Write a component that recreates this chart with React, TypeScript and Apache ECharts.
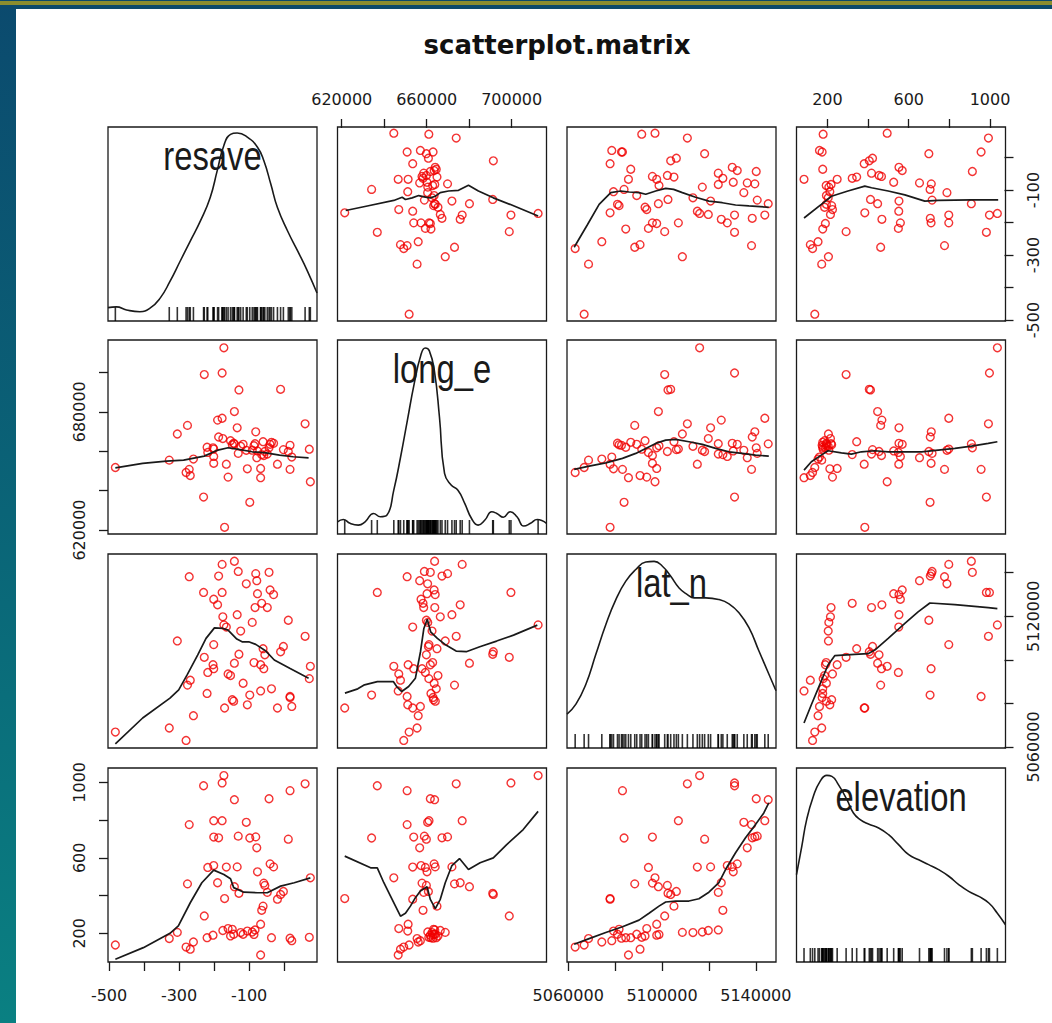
import React, { useEffect, useRef } from "react";
import * as echarts from "echarts";

// ---------------- data ----------------
const varNames = ["resave", "long_e", "lat_n", "elevation"];

const resave = [
  -67, -268, -280, -482, -259, 22, -328, 17, -220, -36, 72, -153, -203, -144, -117, -86, -124, -305, -91, -105,
  -175, -148, -83, -160, -67, -228, -64, -60, -19, -170, -10, -129, -48, -2, -142, -55, -276, -58, -190, 75,
  -76, -218, -165, -134, -30, -201, -40, -78, 12, -98, -187, -201, -81, -131, -271, -108, -201, -177, -142, -43,
  17, -230, 60, -177, -172,
];
const long_e = [
  646570, 647650, 649190, 651720, 656000, 657020, 655470, 663000, 662000, 664500, 661000, 665310, 661700, 664050,
  663500, 662800, 662500, 668730, 660500, 651070, 666390, 663250, 663800, 646850, 651250, 698870, 658270, 664840,
  653410, 621400, 691370, 691080, 658580, 660800, 680120, 659840, 673090, 657800, 675760, 644510, 660150, 659370,
  653410, 671870, 664000, 657330, 663500, 656690, 659840, 634060, 667190, 653880, 669810, 658900, 650780, 660430,
  661090, 676700, 663720, 661700, 650780, 636730, 673890, 699660, 712450,
];
const lat_n = [
  5085700, 5090640, 5062980, 5066810, 5074340, 5078590, 5068680, 5082720, 5084550, 5086680, 5091360, 5092770,
  5097740, 5081020, 5089230, 5098720, 5113190, 5108680, 5117190, 5079320, 5119740, 5081700, 5123990, 5093500,
  5097740, 5101150, 5125950, 5105100, 5077870, 5077870, 5103700, 5102550, 5123990, 5106120, 5098460, 5102290,
  5088380, 5095910, 5125270, 5097020, 5130380, 5094210, 5115060, 5120720, 5129950, 5127820, 5132080, 5136340,
  5118170, 5083830, 5138470, 5095910, 5139580, 5140600, 5138170, 5134890, 5106980, 5143830, 5145280, 5140170,
  5083150, 5130930, 5110810, 5130930, 5116040,
];
const elevation = [
  85, 116, 127, 138, 154, 161, 172, 174, 177, 177, 179, 186, 190, 195, 195, 194, 204, 205, 207, 212, 215, 221, 218,
  225, 248, 292, 322, 344, 381, 384, 406, 412, 417, 422, 447, 454, 462, 466, 468, 494, 526, 549, 551, 552, 552, 559,
  568, 653, 699, 705, 706, 710, 711, 715, 776, 788, 797, 797, 908, 913, 956, 982, 992, 997, 1036,
];

// density curves on the diagonal: [value, fraction of panel height]
const resaveDensity = [
  [-503, 0.069], [-479, 0.073], [-450, 0.057], [-412, 0.048], [-383, 0.066], [-354, 0.118], [-326, 0.204],
  [-297, 0.308], [-268, 0.412], [-239, 0.516], [-211, 0.637], [-191, 0.775], [-172, 0.905], [-153, 0.962],
  [-134, 0.969], [-105, 0.948], [-76, 0.896], [-58, 0.827], [-38, 0.706], [-19, 0.585], [10, 0.464], [39, 0.36],
  [67, 0.256], [94, 0.144],
];
const longDensity = [
  [618000, 0.063], [620700, 0.075], [623900, 0.055], [627800, 0.046], [631000, 0.063], [635000, 0.106],
  [638200, 0.089], [641300, 0.098], [644500, 0.226], [647700, 0.397], [650900, 0.586], [654100, 0.774],
  [657200, 0.92], [659300, 0.959], [661200, 0.945], [663600, 0.842], [666000, 0.603], [668400, 0.312],
  [671500, 0.252], [674700, 0.226], [677900, 0.158], [681100, 0.08], [684200, 0.046], [687400, 0.072],
  [690600, 0.115], [693000, 0.106], [696100, 0.086], [699300, 0.115], [702500, 0.089], [705700, 0.041],
  [708900, 0.055], [712000, 0.075], [716400, 0.055],
];
const latDensity = [
  [5059500, 0.175], [5063300, 0.226], [5067550, 0.329], [5071800, 0.483], [5076070, 0.637], [5080320, 0.765],
  [5084580, 0.86], [5088830, 0.92], [5093090, 0.959], [5096640, 0.962], [5100180, 0.937], [5103730, 0.885],
  [5107280, 0.825], [5110820, 0.791], [5113660, 0.774], [5118630, 0.774], [5124300, 0.765], [5128560, 0.743],
  [5132810, 0.697], [5137070, 0.62], [5141330, 0.5], [5145580, 0.38], [5148600, 0.295],
];
const elevDensity = [
  [48, 0.45], [74, 0.596], [98, 0.734], [131, 0.854], [164, 0.931], [197, 0.962], [222, 0.957], [254, 0.914],
  [296, 0.837], [328, 0.768], [361, 0.734], [402, 0.711], [452, 0.691], [501, 0.656], [550, 0.605], [600, 0.553],
  [649, 0.527], [698, 0.502], [747, 0.476], [797, 0.442], [846, 0.399], [895, 0.364], [945, 0.338], [994, 0.304],
  [1035, 0.253], [1076, 0.192],
];

// smoothing lines for each off-diagonal panel: [x value, y value]
const smooth_resave_long = [
  [621874, -163], [632030, -149], [644510, -132], [648440, -122], [649990, -129], [653130, -124], [656220, -117],
  [659360, -122], [661700, -124], [664050, -119], [666390, -108], [670300, -103], [674980, -101], [679660, -85],
  [684340, -103], [691370, -124], [699190, -144], [712450, -180],
];
const smooth_resave_lat = [
  [5062560, -276], [5068260, -206], [5073200, -144], [5078170, -108], [5082430, -103], [5085960, -106],
  [5090220, -108], [5093070, -113], [5097320, -103], [5101580, -95], [5104940, -98], [5108680, -108],
  [5114340, -122], [5119990, -134], [5125700, -139], [5131360, -146], [5137020, -149], [5145530, -153],
];
const smooth_resave_elev = [
  [85, -186], [170, -144], [220, -119], [301, -103], [384, -88], [417, -93], [499, -103], [581, -115], [679, -134],
  [745, -132], [909, -130], [1040, -130],
];
const smooth_long_resave = [
  [-482, 651580], [-404, 653810], [-336, 654980], [-287, 655480], [-228, 657510], [-189, 660560], [-160, 661730],
  [-130, 660890], [-91, 659700], [-52, 659190], [-13, 658020], [26, 657180], [70, 656660],
];
const smooth_long_lat = [
  [5062560, 650760], [5068940, 652440], [5076050, 654110], [5083150, 656340], [5088810, 658880], [5093070, 661420],
  [5097320, 663960], [5101580, 665640], [5105830, 665980], [5111500, 664790], [5117190, 663430], [5122850, 661420],
  [5128510, 659700], [5134180, 658880], [5139840, 658020], [5145530, 657510],
];
const smooth_long_elev = [
  [85, 650410], [121, 654620], [170, 658020], [203, 660220], [269, 659190], [318, 658530], [367, 659700],
  [433, 660220], [499, 659700], [581, 659700], [663, 659700], [745, 660560], [827, 661420], [909, 662590],
  [991, 663960], [1036, 664790],
];
const smooth_lat_resave = [
  [-482, 5061400], [-404, 5073280], [-326, 5082420], [-301, 5086210], [-277, 5093070], [-247, 5102200],
  [-223, 5109840], [-199, 5114680], [-174, 5114410], [-160, 5113630], [-135, 5109520], [-120, 5108280],
  [-101, 5108280], [-81, 5107100], [-52, 5104030], [-28, 5099920], [16, 5096130], [70, 5091560],
];
const smooth_lat_long = [
  [621500, 5084700], [627540, 5086670], [630730, 5088500], [636780, 5090000], [644270, 5090000], [645870, 5087720],
  [648260, 5085430], [651490, 5087720], [654680, 5091560], [657070, 5103720], [658660, 5114410], [660250, 5118660],
  [661850, 5112850], [665030, 5109840], [669060, 5106780], [673840, 5104030], [678620, 5103720], [684990, 5106000],
  [692910, 5108610], [700880, 5111350], [712080, 5115920],
];
const smooth_lat_elev = [
  [85, 5070990], [121, 5079360], [162, 5088500], [203, 5097640], [236, 5101890], [334, 5102530], [400, 5102800],
  [433, 5104490], [499, 5109840], [581, 5116690], [646, 5121990], [704, 5126100], [827, 5125380], [991, 5124000],
  [1036, 5123500],
];
const smooth_elev_resave = [
  [-482, 63], [-402, 124], [-326, 200], [-302, 239], [-268, 362], [-235, 468], [-201, 535], [-172, 512], [-153, 489],
  [-144, 442], [-115, 418], [-76, 415], [-48, 415], [-10, 450], [29, 468], [75, 494],
];
const smooth_elev_long = [
  [621406, 609], [633590, 547], [636730, 547], [639820, 468], [642960, 397], [645300, 344], [647650, 291],
  [649990, 306], [652330, 344], [654680, 389], [657020, 424], [660150, 447], [661700, 380], [664050, 331],
  [666390, 380], [668730, 468], [671870, 559], [675430, 596], [679660, 538], [685140, 574], [691370, 600],
  [697650, 670], [705430, 750], [712450, 846],
];
const smooth_elev_lat = [
  [5062550, 142], [5068940, 172], [5076040, 204], [5083150, 235], [5090210, 270], [5094470, 306], [5098720, 344],
  [5101570, 366], [5105830, 371], [5111490, 371], [5115740, 383], [5120000, 418], [5124250, 468], [5127100, 538],
  [5131360, 627], [5135610, 706], [5139870, 776], [5143400, 838], [5145530, 891],
];

// tick marks and labels
const resaveTicks = [-500, -400, -300, -200, -100, 0];
const resaveTickLabels = [-500, -300, -100];
const longTicks = [620000, 640000, 660000, 680000, 700000];
const longTopLabels = [620000, 660000, 700000];
const longLeftLabels = [620000, 680000];
const latTicks = [5060000, 5080000, 5100000, 5120000, 5140000];
const latBottomLabels = [5060000, 5100000, 5140000];
const latRightLabels = [5060000, 5120000];
const elevTicks = [200, 400, 600, 800, 1000];
const elevTickLabels = [200, 600, 1000];

// ---------------- layout ----------------
const W = 1052;
const H = 1023;
const colLeft = [108, 337.5, 567, 796.5];
const rowTop = [127, 340, 554, 768];
const PW = 209;
const PH = 194;
const limits = [
  [-503, 94],
  [618000, 716400],
  [5059500, 5148600],
  [48, 1076],
];
const TICK_FONT = "DejaVu Sans";

function buildOption() {
  const vars = [resave, long_e, lat_n, elevation];
  const densities = [resaveDensity, longDensity, latDensity, elevDensity];
  const smooth: Record<string, number[][]> = {
    "0-1": smooth_resave_long,
    "0-2": smooth_resave_lat,
    "0-3": smooth_resave_elev,
    "1-0": smooth_long_resave,
    "1-2": smooth_long_lat,
    "1-3": smooth_long_elev,
    "2-0": smooth_lat_resave,
    "2-1": smooth_lat_long,
    "2-3": smooth_lat_elev,
    "3-0": smooth_elev_resave,
    "3-1": smooth_elev_long,
    "3-2": smooth_elev_lat,
  };

  const grid: any[] = [];
  const xAxis: any[] = [];
  const yAxis: any[] = [];
  const series: any[] = [];

  for (let r = 0; r < 4; r++) {
    for (let c = 0; c < 4; c++) {
      const gi = grid.length;
      grid.push({
        left: colLeft[c],
        top: rowTop[r],
        width: PW,
        height: PH,
        show: true,
        borderColor: "#1a1a1a",
        borderWidth: 1.3,
        backgroundColor: "transparent",
      });
      xAxis.push({ gridIndex: gi, type: "value", min: limits[c][0], max: limits[c][1], show: false });
      if (r === c) {
        yAxis.push({ gridIndex: gi, type: "value", min: 0, max: 1, show: false });
        series.push({
          type: "line",
          xAxisIndex: gi,
          yAxisIndex: gi,
          data: densities[r],
          symbol: "none",
          smooth: true,
          lineStyle: { color: "#1a1a1a", width: 1.6 },
          silent: true,
        });
        series.push({
          type: "scatter",
          xAxisIndex: gi,
          yAxisIndex: gi,
          data: vars[r].map((v) => [v, 0]),
          symbol: "rect",
          symbolSize: [1.6, 14],
          symbolOffset: [0, -7],
          itemStyle: { color: "#000" },
          clip: false,
          silent: true,
        });
      } else {
        yAxis.push({ gridIndex: gi, type: "value", min: limits[r][0], max: limits[r][1], show: false });
        series.push({
          type: "scatter",
          xAxisIndex: gi,
          yAxisIndex: gi,
          data: vars[0].map((_, i) => [vars[c][i], vars[r][i]]),
          symbol: "circle",
          symbolSize: 7.8,
          itemStyle: { color: "transparent", borderColor: "#f00000", borderWidth: 1.4 },
          clip: false,
          silent: true,
        });
        series.push({
          type: "line",
          xAxisIndex: gi,
          yAxisIndex: gi,
          data: smooth[`${r}-${c}`],
          symbol: "none",
          lineStyle: { color: "#1a1a1a", width: 1.7 },
          silent: true,
        });
      }
    }
  }

  const px = (v: number, k: number, c: number) =>
    colLeft[c] + ((v - limits[k][0]) / (limits[k][1] - limits[k][0])) * PW;
  const py = (v: number, k: number, r: number) =>
    rowTop[r] + PH - ((v - limits[k][0]) / (limits[k][1] - limits[k][0])) * PH;

  const labelStyle = (labels: number[], margin: number, rotate: number) => ({
    show: true,
    margin,
    rotate,
    fontFamily: TICK_FONT,
    fontSize: 16,
    lineHeight: 16,
    color: "#1a1a1a",
    showMinLabel: true,
    showMaxLabel: true,
    formatter: (v: number) => (labels.indexOf(v) >= 0 ? String(v) : ""),
  });
  const tickStyle = { show: true, length: 9, lineStyle: { color: "#1a1a1a", width: 1.3 } };

  const addHorizontal = (k: number, c: number, ticks: number[], labels: number[], side: "top" | "bottom") => {
    const lo = ticks[0];
    const hi = ticks[ticks.length - 1];
    const x0 = px(lo, k, c);
    const x1 = px(hi, k, c);
    const gi = grid.length;
    grid.push({
      left: x0,
      width: x1 - x0,
      top: side === "top" ? rowTop[0] : rowTop[3] + PH - 1,
      height: 1,
      show: false,
    });
    xAxis.push({
      gridIndex: gi,
      type: "value",
      min: lo,
      max: hi,
      interval: ticks[1] - ticks[0],
      position: side,
      axisLine: { show: false },
      axisTick: tickStyle,
      splitLine: { show: false },
      axisLabel: labelStyle(labels, side === "top" ? 20 : 25, 0),
    });
    yAxis.push({ gridIndex: gi, type: "value", min: 0, max: 1, show: false });
  };

  const addVertical = (k: number, r: number, ticks: number[], labels: number[], side: "left" | "right") => {
    const lo = ticks[0];
    const hi = ticks[ticks.length - 1];
    const yTop = py(hi, k, r);
    const yBot = py(lo, k, r);
    const gi = grid.length;
    grid.push({
      left: side === "left" ? colLeft[0] : colLeft[3] + PW - 1,
      width: 1,
      top: yTop,
      height: yBot - yTop,
      show: false,
    });
    xAxis.push({ gridIndex: gi, type: "value", min: 0, max: 1, show: false });
    yAxis.push({
      gridIndex: gi,
      type: "value",
      min: lo,
      max: hi,
      interval: ticks[1] - ticks[0],
      position: side,
      axisLine: { show: false },
      axisTick: tickStyle,
      splitLine: { show: false },
      axisLabel: labelStyle(labels, side === "left" ? 21 : 20, 90),
    });
  };

  addHorizontal(0, 0, resaveTicks, resaveTickLabels, "bottom");
  addHorizontal(1, 1, longTicks, longTopLabels, "top");
  addHorizontal(2, 2, latTicks, latBottomLabels, "bottom");
  addHorizontal(3, 3, elevTicks, elevTickLabels, "top");
  addVertical(0, 0, resaveTicks, resaveTickLabels, "right");
  addVertical(1, 1, longTicks, longLeftLabels, "left");
  addVertical(2, 2, latTicks, latRightLabels, "right");
  addVertical(3, 3, elevTicks, elevTickLabels, "left");

  const graphic: any[] = [
    {
      type: "rect",
      shape: { x: 0, y: 0, width: 16, height: H },
      style: {
        fill: new echarts.graphic.LinearGradient(0, 0, 0, 1, [
          { offset: 0, color: "#0b4a6e" },
          { offset: 0.5, color: "#0a6477" },
          { offset: 1, color: "#0a8082" },
        ]),
      },
      silent: true,
    },
    { type: "rect", shape: { x: 0, y: 0, width: W, height: 9 }, style: { fill: "#0c4a6b" }, silent: true },
    { type: "rect", shape: { x: 0, y: 1, width: W, height: 4 }, style: { fill: "#8b8d2e" }, silent: true },
    {
      type: "text",
      x: 557,
      y: 45,
      style: {
        text: "scatterplot.matrix",
        font: 'bold 26px "DejaVu Sans"',
        fill: "#111",
        textAlign: "center",
        textVerticalAlign: "middle",
      },
      silent: true,
    },
  ];
  for (let i = 0; i < 4; i++) {
    graphic.push({
      type: "text",
      x: colLeft[i] + PW / 2,
      y: rowTop[i] + 43 - 14,
      scaleX: 0.82,
      style: {
        text: varNames[i],
        font: '40px "Liberation Sans"',
        fill: "#1a1a1a",
        textAlign: "center",
        textVerticalAlign: "middle",
      },
      silent: true,
    });
  }

  return {
    animation: false,
    backgroundColor: "#ffffff",
    grid,
    xAxis,
    yAxis,
    series,
    graphic,
  };
}

export default function App() {
  const ref = useRef<HTMLDivElement>(null);
  useEffect(() => {
    if (!ref.current) return;
    const chart = echarts.init(ref.current, null, { renderer: "svg" });
    chart.setOption(buildOption());
    return () => chart.dispose();
  }, []);
  return (
    <div
      ref={ref}
      style={{ position: "fixed", left: 0, top: 0, width: W, height: H, background: "#fff" }}
    />
  );
}
